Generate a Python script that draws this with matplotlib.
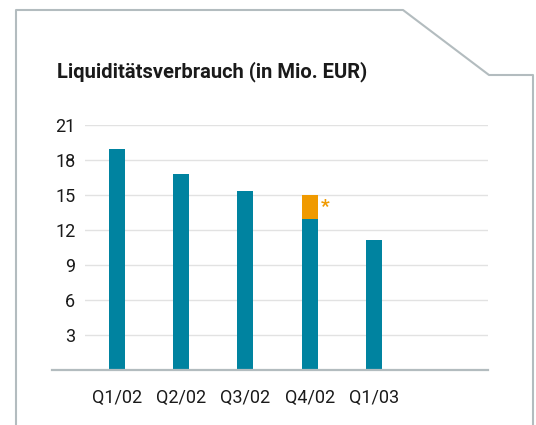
import matplotlib
matplotlib.use("Agg")
import matplotlib.pyplot as plt
from matplotlib.lines import Line2D

# data (Mio. EUR)
quarters = ["Q1/02", "Q2/02", "Q3/02", "Q4/02", "Q1/03"]
base_values = [18.9, 16.8, 15.3, 12.9, 11.1]
extra_values = [0, 0, 0, 2.1, 0]
y_ticks = [3, 6, 9, 12, 15, 18, 21]
title = "Liquiditätsverbrauch (in Mio. EUR)"

TEAL = "#0083a0"
ORANGE = "#f09a00"
FRAME = "#b3bcbf"
GRID = "#e2e2e2"
TEXT = "#1a1a1a"

W, H = 536, 425
plt.rcParams["font.family"] = ["Roboto", "DejaVu Sans"]

fig = plt.figure(figsize=(W / 100, H / 100), dpi=100)

# axes area in pixels: gridlines run from x=85 to x=488, zero line at y=369.5, 21 at y=125
left, right = 85, 488
y0, y21 = 369.5, 125
ax = fig.add_axes([left / W, 1 - y0 / H, (right - left) / W, (y0 - y21) / H])

x = list(range(len(quarters)))
ax.bar(x, base_values, width=0.25, color=TEAL, zorder=3)
ax.bar(x, extra_values, width=0.25, bottom=base_values, color=ORANGE, zorder=3)

# asterisk next to the stacked bar
i_star = extra_values.index(max(extra_values))
ax.annotate("*", xy=(i_star + 0.125, base_values[i_star] + extra_values[i_star]),
            xytext=(5.5, -8.5), textcoords="offset points", ha="center", va="center",
            color=ORANGE, fontsize=14, fontweight="bold", zorder=4)

ax.set_xlim(-0.5, 5.78)
ax.set_ylim(0, 21)
ax.set_yticks(y_ticks)
ax.set_xticks(x)
ax.set_xticklabels(quarters)
ax.tick_params(axis="both", length=0, labelsize=13, colors=TEXT)
ax.tick_params(axis="y", pad=7)
ax.tick_params(axis="x", pad=14)
ax.grid(axis="y", color=GRID, linewidth=1, zorder=0)
ax.set_axisbelow(True)
for s in ax.spines.values():
    s.set_visible(False)

# baseline extends further left than the gridlines
fig.add_artist(Line2D([52 / W, right / W], [1 - y0 / H, 1 - y0 / H],
                      color=FRAME, linewidth=1.6, zorder=5))

# frame with cut corner
fx = [16, 16, 403, 489, 533, 533]
fy = [430, 10, 10, 75, 75, 430]
fig.add_artist(Line2D([v / W for v in fx], [1 - v / H for v in fy],
                      color=FRAME, linewidth=1.5))

fig.text(57 / W, 1 - 77 / H, title, fontsize=14.5, fontweight="bold",
         color=TEXT, ha="left", va="baseline")

fig.savefig("out.png", dpi=100)
